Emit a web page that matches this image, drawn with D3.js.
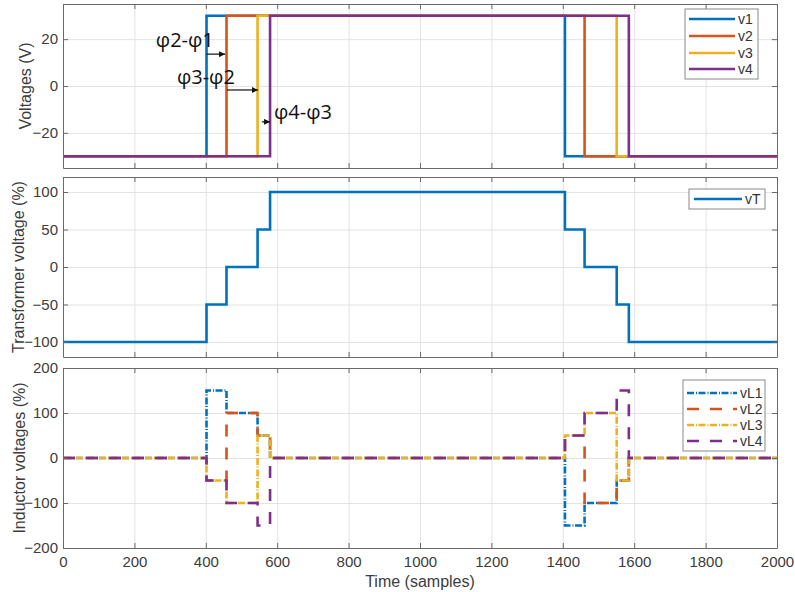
<!DOCTYPE html>
<html>
<head>
<meta charset="utf-8">
<script src="https://cdn.jsdelivr.net/npm/d3@7"></script>
<style>
  html, body { margin: 0; padding: 0; background: #fff; }
  svg { display: block; }
  text { font-family: "Liberation Sans", Arial, Helvetica, sans-serif; }
</style>
</head>
<body>
<svg id="chart" width="795" height="592"></svg>
<script>
// ---- data (step breakpoints: [sample, value], held until the next breakpoint) ----
const xDomain = [0, 2000];
const xTicks = [0, 200, 400, 600, 800, 1000, 1200, 1400, 1600, 1800, 2000];

// Phase-leg voltages (V)
const v1 = [[0, -30], [402, 30], [1406, -30], [2000, -30]];
const v2 = [[0, -30], [458, 30], [1461, -30], [2000, -30]];
const v3 = [[0, -30], [545, 30], [1551, -30], [2000, -30]];
const v4 = [[0, -30], [580, 30], [1585, -30], [2000, -30]];
const vNames = ["v1", "v2", "v3", "v4"];
const vTicks = [-20, 0, 20];

// Transformer voltage (%)
const vT = [[0, -100], [402, -50], [458, 0], [545, 50], [580, 100],
            [1406, 50], [1461, 0], [1551, -50], [1585, -100], [2000, -100]];
const vTTicks = [-100, -50, 0, 50, 100];

// Inductor voltages (%)
const vL1 = [[0, 0], [402, 150], [458, 100], [545, 50], [580, 0],
             [1406, -150], [1461, -100], [1551, -50], [1585, 0], [2000, 0]];
const vL2 = [[0, 0], [402, -50], [458, 100], [545, 50], [580, 0],
             [1406, 50], [1461, -100], [1551, -50], [1585, 0], [2000, 0]];
const vL3 = [[0, 0], [402, -50], [458, -100], [545, 50], [580, 0],
             [1406, 50], [1461, 100], [1551, -50], [1585, 0], [2000, 0]];
const vL4 = [[0, 0], [402, -50], [458, -100], [545, -150], [580, 0],
             [1406, 50], [1461, 100], [1551, 150], [1585, 0], [2000, 0]];
const vLNames = ["vL1", "vL2", "vL3", "vL4"];
const vLTicks = [-200, -100, 0, 100, 200];

// Phase-shift annotations on the top panel
const phaseLabels = ["φ2-φ1", "φ3-φ2", "φ4-φ3"];
const phaseFrom = [402, 459, 557];
const phaseTo = [454, 546, 580];
const phaseArrowY = [13.6, -1.7, -15.3];
const phaseLabelX = [260, 319, 591];
const phaseLabelY = [16.6, 0.9, -14];

// ---- styling ----
const colors = ["#0072BD", "#D95319", "#EDB120", "#7E2F8E"];
const axisColor = "#6a6a6a";
const textColor = "#3c3c3c";
const gridColor = "#e3e3e3";
const lineW = 2.6;
const dashDot = "7,2,1,1.5";
const dashed = "12,11";
const dashStyles = [dashDot, dashed, dashDot, dashed];
const dashOffsets = [10, 0, 10, 0];

const svg = d3.select("#chart");
const x = d3.scaleLinear().domain(xDomain).range([63, 777]);

svg.append("defs").append("marker")
  .attr("id", "arrowHead")
  .attr("viewBox", "0 0 10 10")
  .attr("refX", 10).attr("refY", 5)
  .attr("markerWidth", 6).attr("markerHeight", 6)
  .attr("markerUnits", "userSpaceOnUse")
  .attr("orient", "auto")
  .append("path").attr("d", "M0,0 L10,5 L0,10 Z").attr("fill", "#111");

function panel(top, bottom, yDomain, yTicks, showXLabels, yLabel, yLabelX) {
  const y = d3.scaleLinear().domain(yDomain).range([bottom, top]);
  const g = svg.append("g");
  const h = bottom - top, w = x.range()[1] - x.range()[0];

  // grid
  g.append("g").attr("transform", `translate(0,${bottom})`)
    .call(d3.axisBottom(x).tickValues(xTicks).tickSize(-h).tickFormat(""))
    .call(s => s.select(".domain").remove())
    .call(s => s.selectAll("line").attr("stroke", gridColor));
  g.append("g").attr("transform", `translate(${x.range()[0]},0)`)
    .call(d3.axisLeft(y).tickValues(yTicks).tickSize(-w).tickFormat(""))
    .call(s => s.select(".domain").remove())
    .call(s => s.selectAll("line").attr("stroke", gridColor));

  const plot = g.append("g");

  // frame and inward ticks
  const styleAxis = s => {
    s.select(".domain").attr("stroke", axisColor);
    s.selectAll(".tick line").attr("stroke", axisColor);
    s.selectAll("text").attr("fill", textColor).style("font-size", "15px")
      .style("font-family", "'Liberation Sans', Arial, sans-serif");
  };
  const fg = svg.append("g");
  fg.append("g").attr("transform", `translate(0,${bottom})`)
    .call(d3.axisBottom(x).tickValues(xTicks).tickSizeInner(-5).tickSizeOuter(0)
      .tickPadding(8).tickFormat(showXLabels ? d3.format("d") : ""))
    .call(styleAxis);
  fg.append("g").attr("transform", `translate(0,${top})`)
    .call(d3.axisTop(x).tickValues(xTicks).tickSizeInner(-5).tickSizeOuter(0).tickFormat(""))
    .call(styleAxis);
  fg.append("g").attr("transform", `translate(${x.range()[0]},0)`)
    .call(d3.axisLeft(y).tickValues(yTicks).tickSizeInner(-5).tickSizeOuter(0)
      .tickPadding(5).tickFormat(d3.format("d")))
    .call(styleAxis);
  fg.append("g").attr("transform", `translate(${x.range()[1]},0)`)
    .call(d3.axisRight(y).tickValues(yTicks).tickSizeInner(-5).tickSizeOuter(0).tickFormat(""))
    .call(styleAxis);

  fg.append("text")
    .attr("transform", `translate(${yLabelX},${(top + bottom) / 2}) rotate(-90)`)
    .attr("text-anchor", "middle")
    .attr("dominant-baseline", "central")
    .attr("fill", textColor)
    .style("font-size", "16px")
    .text(yLabel);

  return { y, plot, fg };
}

const line = y => d3.line().x(d => x(d[0])).y(d => y(d[1])).curve(d3.curveStepAfter);

function legend(layer, x0, y0, w, h, names, rowYs, lineX0, lineX1, styles) {
  const lg = layer.append("g");
  lg.append("rect").attr("x", x0).attr("y", y0).attr("width", w).attr("height", h)
    .attr("fill", "#fff").attr("stroke", "#8a8a8a").attr("stroke-width", 1);
  names.forEach((n, i) => {
    lg.append("line").attr("x1", lineX0).attr("x2", lineX1)
      .attr("y1", rowYs[i]).attr("y2", rowYs[i])
      .attr("stroke", styles[i].color).attr("stroke-width", lineW)
      .attr("stroke-dasharray", styles[i].dash || null);
    lg.append("text").attr("x", lineX1 + 3).attr("y", rowYs[i] + 5)
      .attr("fill", "#333").style("font-size", "14px").text(n);
  });
}

// ---- panel 1: phase voltages ----
const p1 = panel(4, 168, [-35, 35], vTicks, false, "Voltages (V)", 25);
[v1, v2, v3, v4].forEach((s, i) => {
  p1.plot.append("path").datum(s).attr("d", line(p1.y))
    .attr("fill", "none").attr("stroke", colors[i]).attr("stroke-width", lineW);
});
phaseLabels.forEach((lab, i) => {
  p1.plot.append("line")
    .attr("x1", x(phaseFrom[i])).attr("x2", x(phaseTo[i]))
    .attr("y1", p1.y(phaseArrowY[i])).attr("y2", p1.y(phaseArrowY[i]))
    .attr("stroke", "#111").attr("stroke-width", 1.2)
    .attr("marker-end", "url(#arrowHead)");
  p1.plot.append("text")
    .attr("x", x(phaseLabelX[i])).attr("y", p1.y(phaseLabelY[i]))
    .attr("fill", "#111")
    .style("font-family", "'Open Sans', 'Noto Sans', sans-serif")
    .style("font-size", "20px")
    .text(lab);
});
legend(p1.fg, 685, 9, 73, 70, vNames, [19, 36, 53, 69], 689, 735,
  colors.map(c => ({ color: c })));

// ---- panel 2: transformer voltage ----
const p2 = panel(177, 357, [-120, 120], vTTicks, false, "Transformer voltage (%)", 18);
p2.plot.append("path").datum(vT).attr("d", line(p2.y))
  .attr("fill", "none").attr("stroke", colors[0]).attr("stroke-width", lineW);
legend(p2.fg, 689, 189, 76, 20, ["vT"], [199], 694, 742, [{ color: colors[0] }]);

// ---- panel 3: inductor voltages ----
const p3 = panel(368, 548, [-200, 200], vLTicks, true, "Inductor voltages (%)", 19);
[vL1, vL2, vL3, vL4].forEach((s, i) => {
  p3.plot.append("path").datum(s).attr("d", line(p3.y))
    .attr("fill", "none").attr("stroke", colors[i]).attr("stroke-width", lineW)
    .attr("stroke-dasharray", dashStyles[i])
    .attr("stroke-dashoffset", dashOffsets[i]);
});
legend(p3.fg, 683, 380, 82, 71, vLNames, [393, 409, 425, 441], 687, 737,
  colors.map((c, i) => ({ color: c, dash: dashStyles[i] })));

svg.append("text")
  .attr("x", 420).attr("y", 587)
  .attr("text-anchor", "middle")
  .attr("fill", textColor)
  .style("font-size", "16px")
  .text("Time (samples)");
</script>
</body>
</html>
